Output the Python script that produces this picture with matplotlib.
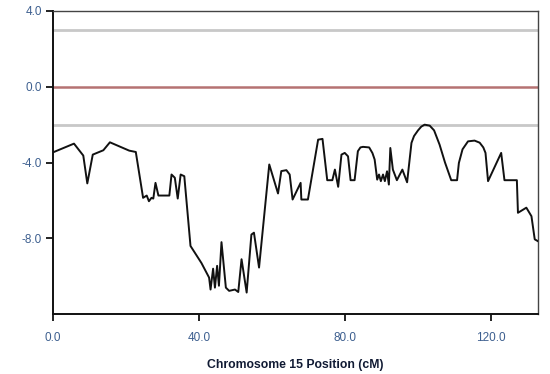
import matplotlib
matplotlib.use("Agg")
import matplotlib.pyplot as plt

plt.rcParams['font.family'] = ['Liberation Sans', 'DejaVu Sans']

# LOD profile along chromosome 15
position_cm = [0.0, 5.75, 8.3, 9.4, 10.9, 13.8, 15.6, 20.9, 22.7, 24.7, 25.7, 26.3,
               27.0, 27.5, 28.1, 28.9, 31.9, 32.5, 33.4, 34.2, 35.0, 36.0, 37.7,
               40.7, 42.8, 43.2, 43.9, 44.4, 45.0, 45.5, 46.2, 47.4, 48.3, 49.9,
               50.8, 51.7, 53.1, 54.4, 55.1, 56.5, 59.3, 61.7, 62.6, 64.0, 64.9,
               65.7, 67.9, 68.1, 69.9, 72.7, 73.9, 75.2, 76.6, 77.3, 78.2, 79.1,
               80.0, 80.9, 81.6, 82.7, 83.6, 84.3, 85.0, 86.7, 87.6, 88.2, 88.9,
               89.4, 89.9, 90.5, 91.0, 91.6, 92.1, 92.5, 93.2, 94.3, 95.8, 97.1,
               98.3, 99.0, 100.1, 101.0, 101.9, 103.3, 104.5, 106.0, 107.5, 109.2,
               110.8, 111.3, 112.3, 113.8, 115.6, 117.0, 118.0, 118.6, 119.3,
               122.9, 123.8, 127.2, 127.5, 129.8, 131.2, 132.1, 132.9]
lod = [-3.46, -3.0, -3.63, -5.1, -3.58, -3.35, -2.93, -3.37, -3.44, -5.86, -5.74,
       -6.04, -5.86, -5.9, -5.07, -5.74, -5.74, -4.63, -4.8, -5.9, -4.63, -4.72,
       -8.4, -9.3, -10.07, -10.7, -9.6, -10.6, -9.45, -10.5, -8.2, -10.6, -10.77,
       -10.7, -10.83, -9.1, -10.86, -7.8, -7.7, -9.54, -4.1, -5.63, -4.45, -4.4,
       -4.63, -5.95, -5.07, -5.95, -5.95, -2.79, -2.75, -4.93, -4.93, -4.37,
       -5.28, -3.58, -3.49, -3.67, -4.93, -4.93, -3.4, -3.2, -3.17, -3.2, -3.5,
       -3.84, -4.9, -4.63, -4.98, -4.63, -4.98, -4.46, -5.16, -3.23, -4.37,
       -4.93, -4.37, -5.04, -2.96, -2.6, -2.3, -2.1, -2.0, -2.05, -2.3, -3.05,
       -4.0, -4.93, -4.93, -4.02, -3.3, -2.88, -2.84, -2.95, -3.2, -3.49, -4.98,
       -3.49, -4.93, -4.93, -6.65, -6.38, -6.83, -8.05, -8.14]

# Threshold lines
upper_threshold = 3.0
lower_threshold = -2.0
baseline = 0.0

x_ticks = [0, 40, 80, 120]
y_ticks = [4, 0, -4, -8]

fig = plt.figure(figsize=(5.5, 3.74), dpi=100)
ax = fig.add_axes([0.0964, 0.160, 0.8818, 0.8106])

ax.axhline(upper_threshold, color='#c8c8c8', lw=2.0, zorder=1)
ax.axhline(lower_threshold, color='#c8c8c8', lw=2.0, zorder=1)
ax.axhline(baseline, color='#b57272', lw=1.8, zorder=1)
ax.plot(position_cm, lod, color='#111111', lw=1.4, zorder=3,
        solid_joinstyle='round')

ax.set_xlim(0, 133)
ax.set_ylim(-12, 4)

tick_color = '#3d5f8f'
ax.set_xticks(x_ticks)
ax.set_xticklabels([f"{v:.1f}" for v in x_ticks])
ax.set_yticks(y_ticks)
ax.set_yticklabels([f"{v:.1f}" for v in y_ticks])
ax.tick_params(axis='both', direction='out', length=5, width=1.3,
               labelsize=8.5, labelcolor=tick_color, color='#111111')
ax.tick_params(axis='x', pad=8)
ax.tick_params(axis='y', pad=3)
ax.tick_params(axis='x', top=False)
ax.tick_params(axis='y', right=False)

for side in ('left', 'bottom'):
    ax.spines[side].set_color('#111111')
    ax.spines[side].set_linewidth(1.4)
for side in ('top', 'right'):
    ax.spines[side].set_color('#444444')
    ax.spines[side].set_linewidth(1.0)

ax.set_xlabel('Chromosome 15 Position (cM)', fontsize=8.8, fontweight='bold',
              color='#101a33', labelpad=11)

fig.savefig('out.png', dpi=100)
